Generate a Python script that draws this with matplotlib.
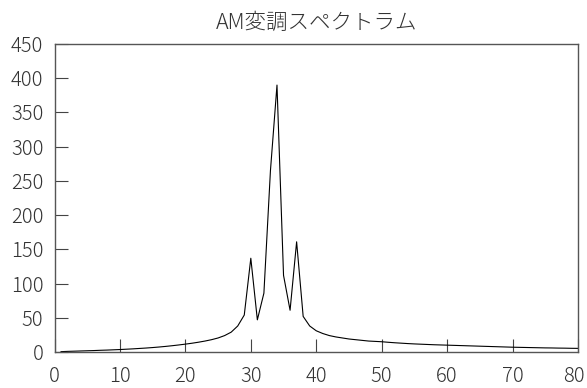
import matplotlib
matplotlib.use('Agg')
import matplotlib.pyplot as plt
import matplotlib.transforms as mtransforms
import numpy as np

plt.rcParams['font.family'] = ['Noto Sans CJK JP', 'DejaVu Sans']

# --------- DATA ----------
title = 'AM変調スペクトラム'

freq = list(range(1, 81))
spec = [0.5, 0.9, 1.2, 1.5, 1.8, 2.1, 2.5, 2.8, 3.2, 3.6,
        4.1, 4.6, 5.2, 5.8, 6.5, 7.3, 8.2, 9.2, 10.3, 11.5,
        12.8, 14.3, 16.0, 18.0, 20.5, 24.0, 29.0, 38.0, 54.0, 137.0,
        47.0, 86.0, 265.0, 390.0, 112.0, 61.0, 161.0, 52.0, 38.0, 31.0,
        27.0, 24.0, 22.0, 20.5, 19.0, 18.0, 17.0, 16.0, 15.5, 15.0,
        14.2, 13.5, 12.9, 12.3, 11.8, 11.4, 11.0, 10.6, 10.3, 10.0,
        9.7, 9.4, 9.1, 8.8, 8.5, 8.2, 7.9, 7.6, 7.3, 7.0,
        6.8, 6.6, 6.4, 6.2, 6.0, 5.9, 5.7, 5.6, 5.4, 5.3]

xticks = np.arange(0, 81, 10)
yticks = np.arange(0, 451, 50)
# -------------------------

fig = plt.figure(figsize=(5.87, 3.88), dpi=100)
ax = fig.add_axes([54.5/587., 36/388., 523.5/587., 308/388.])

ax.plot(freq, spec, color='black', linewidth=0.8)

ax.set_xlim(0, 80)
ax.set_ylim(0, 450)
ax.set_xticks(xticks)
ax.set_yticks(yticks)

for sp in ax.spines.values():
    sp.set_color('#555555')
    sp.set_linewidth(1.0)

ax.tick_params(axis='both', direction='in', length=9.4, width=0.8,
               color='#444444', labelsize=14.5, labelcolor='#333333')
ax.tick_params(axis='x', pad=10)
ax.tick_params(axis='y', pad=8)

for lab in ax.get_xticklabels() + ax.get_yticklabels():
    lab.set_fontweight('light')

# keep the last x label inside the figure edge
last = ax.get_xticklabels()[-1]
last.set_transform(last.get_transform() +
                   mtransforms.ScaledTranslation(-3/72., 0, fig.dpi_scale_trans))

ax.set_title(title, fontsize=15.5, color='#333333', fontweight='light', pad=11)

fig.savefig('out.png', dpi=100)
